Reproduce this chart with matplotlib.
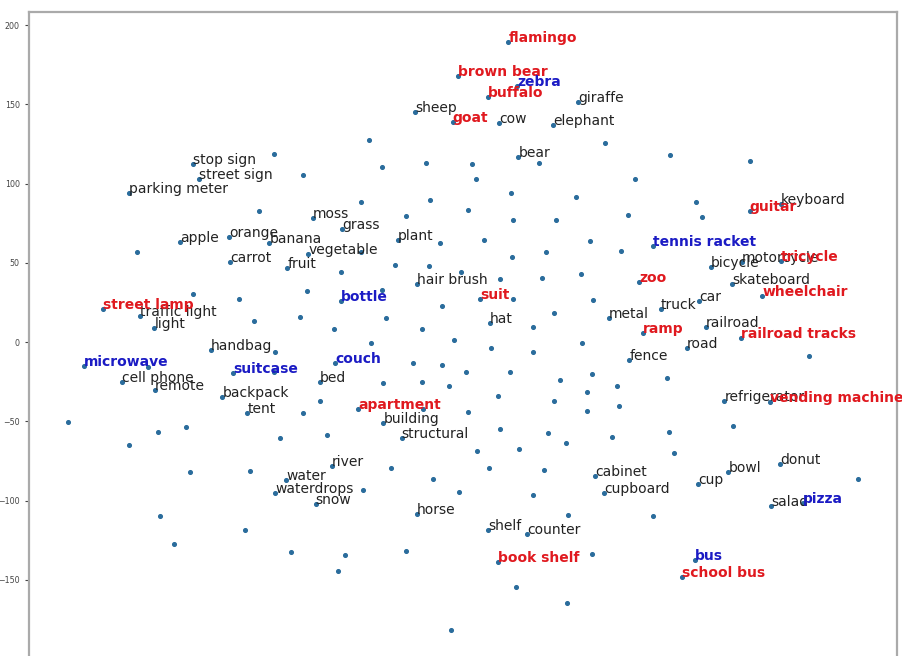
import matplotlib
matplotlib.use("Agg")
import matplotlib.pyplot as plt
from matplotlib.ticker import MultipleLocator

# t-SNE coordinates of the word embeddings
# plain (black) words
plain_words = ["stop sign", "street sign", "parking meter", "sheep", "cow", "giraffe",
               "elephant", "bear", "keyboard", "moss", "grass", "apple", "orange",
               "banana", "plant", "vegetable", "carrot", "fruit", "hair brush",
               "traffic light", "light", "hat", "handbag", "cell phone", "remote",
               "bed", "backpack", "tent", "building", "structural", "river", "water",
               "waterdrops", "snow", "horse", "shelf", "counter", "cabinet", "cupboard",
               "cup", "bowl", "donut", "salad", "refrigerator", "fence", "road",
               "railroad", "metal", "truck", "car", "skateboard", "bicycle", "motorcycle"]
plain_x = [-215, -210.2, -266.2, -37.6, 29.8, 93, 72.6, 45, 255.2, -119.4, -96.2,
           -225.6, -186.2, -154.2, -51.4, -123, -185.6, -139.8, -36.2, -257.6, -246.2,
           22.4, -200.8, -272.2, -245.6, -113.6, -191.8, -171.8, -63, -48.2, -104.2,
           -140.8, -149.6, -117, -36.2, 21, 51.8, 106.4, 113.6, 189, 213, 254.4, 247,
           209.8, 133.8, 179.8, 195.2, 117.6, 159, 189.6, 215.8, 199.2, 224]
plain_y = [112.4, 103.2, 94.3, 145.4, 138.1, 151.4, 137.1, 116.7, 87.2, 78.2, 71.2,
           63.4, 66.2, 62.4, 64.5, 55.5, 50.8, 46.6, 36.5, 16.5, 8.8, 11.9, -4.9,
           -25.3, -30.2, -24.9, -34.4, -44.9, -50.8, -60.6, -77.9, -87, -95.3, -102.3,
           -108.4, -118.5, -121.2, -84.4, -95.3, -89.5, -81.7, -76.9, -103.2, -37.1,
           -11.2, -3.8, 9.4, 15.5, 20.8, 26.2, 36.7, 47.6, 50.6]

# highlighted words, red group
red_words = ["flamingo", "brown bear", "buffalo", "goat", "guitar", "tricycle", "zoo",
             "wheelchair", "street lamp", "suit", "ramp", "railroad tracks",
             "apartment", "vending machine", "book shelf", "school bus"]
red_x = [37, -3.4, 21, -7.4, 230.2, 255.2, 141.6, 240.2, -287, 14.4, 145, 223.2,
         -83, 246.4, 28.6, 176.2]
red_y = [189.6, 168, 154.5, 139.1, 83, 51.2, 38.2, 29.3, 20.8, 27.1, 6, 2.5,
         -42.3, -37.5, -138.9, -148]

# highlighted words, blue group
blue_words = ["zebra", "tennis racket", "bottle", "microwave", "suitcase", "couch",
              "pizza", "bus"]
blue_x = [44.2, 152.6, -96.8, -302.4, -183, -101.6, 272.6, 186.4]
blue_y = [161.7, 60.9, 26, -14.8, -19.2, -12.9, -101.7, -137.4]

# remaining words, drawn without a label
other_x = [-150.4, -162.2, -74.4, 61.8, -127.2, -64.2, -28.8, 7.8, 11.2, 39.4, 91.2,
           -81, -25.4, 4.6, -44.8, 40.8, 75.2, 114.4, 166.6, 230.4, 138.2, 187.2,
           191.8, 132.8, -260.2, -215.4, -178.4, -129.6, -166.4, -149.4, -251, -150.2,
           -315, -243.4, -221, -145.6, -17.6, 17.8, 102.4, -81, 40.2, 67.2, -97,
           -53.6, -26.4, -1, 30.4, 64.2, 95.2, -124.2, -63.8, 41, 104.6, -16.2, -60.8,
           73.6, -102.2, -32.2, 57, -73, -6.4, 23.2, 95.8, 57, -39, -16.2, 3.2, 38.4,
           -63, -31.8, -10.4, 78.4, 103.8, -113.6, -31, 5, 29, 73.8, 99.8, 99.8,
           -127.4, -107.8, 30.4, 69, 127, 277.8, 164.2, 123.8, 125.6, 217, 165.8,
           119.8, -266.4, -217.8, -169.4, -241.8, -173.6, -230.2, -137, -56.8, 11.8,
           45.8, 83, -79, -23.4, 21.8, 65.8, -2.4, 57, 85, -44.8, -93.6, -99, 103.8,
           43.2, 83.8, -8.8, 169.6, 316.6, 153]
other_y = [118.8, 82.8, 127.4, 112.9, 105.5, 110.4, 113.3, 112.3, 102.8, 94, 91.8,
           88.5, 89.5, 83.4, 79.6, 76.8, 76.8, 125.9, 118.1, 114.1, 103.2, 88.3,
           79.2, 80.1, 56.7, 30.4, 27.1, 15.6, 13.6, -6.4, -15.5, -18.6, -50.2,
           -56.9, -53.3, -60.3, 62.8, 64.5, 64, 57.1, 54, 57.1, 44.1, 48.7, 48.3,
           44.1, 39.7, 40.3, 43, 32.3, 32.9, 27.1, 26.6, 23, 15.1, 18.6, 8.1, 8.3,
           9.8, -0.7, 1.4, -3.8, -0.7, -6, -13.3, -14.4, -18.6, -18.6, -25.9, -25.3,
           -27.6, -23.9, -20.1, -37.1, -42.3, -43.9, -33.8, -37.1, -31.4, -43.2,
           -44.9, -58.6, -55, -57.1, 57.5, -8.5, -22.4, -27.4, -40.1, -52.7, -56.7,
           -60, -64.9, -81.7, -81.3, -109.5, -118.5, -127.3, -132.6, -79.6, -68.7,
           -67.4, -63.4, -93.3, -86.5, -79.2, -80.6, -94.5, -96.4, -109.2, -131.8,
           -134.3, -144.4, -133.6, -154.3, -164.4, -181.6, -69.7, -86.5, -109.7]

fig = plt.figure(figsize=(9.02, 6.56), dpi=100)
ax = fig.add_axes([0.0319, -0.0053, 0.9629, 0.9867])

all_x = plain_x + red_x + blue_x + other_x
all_y = plain_y + red_y + blue_y + other_y
ax.scatter(all_x, all_y, s=7, color="#2a6c9c")

for word, x, y in zip(plain_words, plain_x, plain_y):
    ax.annotate(word, xy=(x, y), fontsize=10, color="#222222")
for word, x, y in zip(red_words, red_x, red_y):
    ax.annotate(word, xy=(x, y), fontsize=10, color="#e0191f", weight="bold")
for word, x, y in zip(blue_words, blue_x, blue_y):
    ax.annotate(word, xy=(x, y), fontsize=10, color="#1b1bc4", weight="bold")

ax.xaxis.set_major_locator(MultipleLocator(100))
ax.yaxis.set_major_locator(MultipleLocator(50))
ax.tick_params(labelsize=5.7, length=3, colors="#444444")
for side in ax.spines.values():
    side.set_color("#aaaaaa")
    side.set_linewidth(1.6)

fig.savefig("out.png", dpi=100)
